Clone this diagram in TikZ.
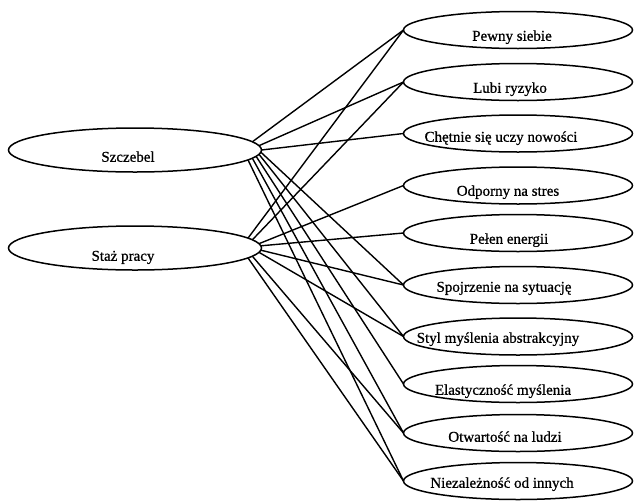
\documentclass[tikz,border=0pt]{standalone}
\usepackage{fontspec}
\setmainfont{Liberation Serif}[BoldFont=Liberation Serif, BoldFeatures={FakeBold=0.8}]
\usetikzlibrary{shapes.geometric}
\begin{document}
\begin{tikzpicture}[x=1pt,y=-1pt,
  oval/.style={ellipse, draw, line width=1.5pt, inner sep=0pt, outer sep=0pt},
  factor/.style={oval, minimum width=253pt, minimum height=44pt},
  trait/.style={oval, minimum width=229pt, minimum height=37pt},
  txt/.style={font=\fontsize{15}{18}\selectfont\bfseries, inner sep=0pt,
              text height=10.5pt, text depth=3pt},
  link/.style={line width=1.4pt}]
\useasboundingbox (0,0) rectangle (634,501);

% grouping variables
\node[factor, label={[txt, xshift=-7pt, yshift=-8pt]center:Szczebel}]   (sz) at (135,150) {};
\node[factor, label={[txt, xshift=-12pt, yshift=-9pt]center:Staż pracy}] (st) at (135,248) {};

% traits
\node[trait, label={[txt, xshift=-6pt,  yshift=-7pt]center:Pewny siebie}]              (t1)  at (518,30) {};
\node[trait, label={[txt, xshift=-8pt,  yshift=-7pt]center:Lubi ryzyko}]               (t2)  at (518,82) {};
\node[trait, label={[txt, xshift=-17pt, yshift=-4.5pt]center:Chętnie się uczy nowości}] (t3)  at (518,133.5) {};
\node[trait, label={[txt, xshift=-10pt, yshift=-6.5pt]center:Odporny na stres}]        (t4)  at (518,185.5) {};
\node[trait, label={[txt, xshift=-9pt,  yshift=-7pt]center:Pełen energii}]             (t5)  at (518,233) {};
\node[trait, label={[txt, xshift=-14pt, yshift=-3pt]center:Spojrzenie na sytuację}]    (t6)  at (518,285) {};
\node[trait, label={[txt, xshift=-20pt, yshift=-2.5pt]center:Styl myślenia abstrakcyjny}] (t7) at (518,336.5) {};
\node[trait, label={[txt, xshift=-15pt, yshift=-7pt]center:Elastyczność myślenia}]     (t8)  at (518,384) {};
\node[trait, label={[txt, xshift=-13pt, yshift=-5pt]center:Otwartość na ludzi}]        (t9)  at (518,433) {};
\node[trait, label={[txt, xshift=-16pt, yshift=-3pt]center:Niezależność od innych}]    (t10) at (518,481) {};

% links from Szczebel
\draw[link] (sz.4)    -- (t1.west);
\draw[link] (sz.2.5)  -- (t2.west);
\draw[link] (sz.east) -- (t3.west);
\draw[link] (sz.-1.5) -- (t6.west);
\draw[link] (sz.-2.5) -- (t7.west);
\draw[link] (sz.-3.5) -- (t8.west);
\draw[link] (sz.-4.5) -- (t9.west);
\draw[link] (sz.-5.5) -- (t10.west);

% links from Staż pracy
\draw[link] (st.5.5) -- (t1.west);
\draw[link] (st.4)   -- (t2.west);
\draw[link] (st.2.5) -- (t4.west);
\draw[link] (st.1)   -- (t5.west);
\draw[link] (st.-1)  -- (t6.west);
\draw[link] (st.-2.5) -- (t7.west);
\draw[link] (st.-4)  -- (t9.west);
\draw[link] (st.-5.5) -- (t10.west);
\end{tikzpicture}
\end{document}
